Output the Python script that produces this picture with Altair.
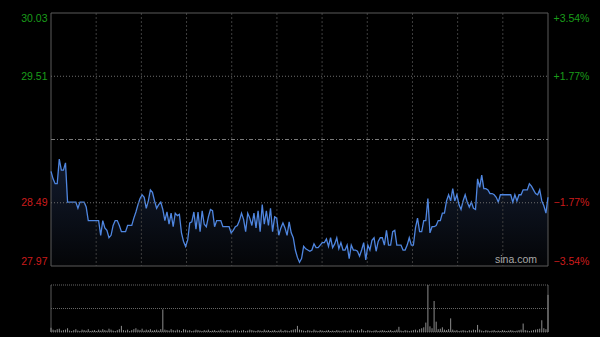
import altair as alt
import pandas as pd

# ---------------- data ----------------
minutes = list(range(241))
price = [
    28.74, 28.68, 28.64, 28.64, 28.84, 28.75, 28.75, 28.81, 28.49, 28.49,
    28.49, 28.49, 28.49, 28.44, 28.49, 28.49, 28.49, 28.45, 28.34, 28.34,
    28.34, 28.34, 28.34, 28.34, 28.22, 28.34, 28.28, 28.26, 28.20, 28.22,
    28.30, 28.34, 28.34, 28.30, 28.25, 28.25, 28.25, 28.30, 28.30, 28.30,
    28.36, 28.41, 28.47, 28.52, 28.55, 28.53, 28.44, 28.50, 28.59, 28.57,
    28.50, 28.44, 28.47, 28.49, 28.43, 28.34, 28.41, 28.31, 28.40, 28.29,
    28.40, 28.38, 28.39, 28.24, 28.17, 28.13, 28.18, 28.32, 28.33, 28.41,
    28.27, 28.41, 28.25, 28.42, 28.31, 28.29, 28.37, 28.43, 28.42, 28.29,
    28.34, 28.34, 28.34, 28.29, 28.29, 28.29, 28.29, 28.24, 28.26, 28.29,
    28.30, 28.34, 28.40, 28.35, 28.25, 28.40, 28.36, 28.30, 28.40, 28.28,
    28.42, 28.25, 28.47, 28.31, 28.42, 28.30, 28.44, 28.25, 28.37, 28.36,
    28.22, 28.28, 28.32, 28.28, 28.22, 28.33, 28.24, 28.20, 28.10, 28.04,
    28.00, 28.03, 28.13, 28.11, 28.10, 28.09, 28.10, 28.15, 28.12, 28.12,
    28.14, 28.16, 28.16, 28.19, 28.13, 28.20, 28.12, 28.15, 28.20, 28.11,
    28.16, 28.10, 28.10, 28.14, 28.03, 28.14, 28.10, 28.10, 28.09, 28.05,
    28.10, 28.16, 28.02, 28.14, 28.10, 28.18, 28.20, 28.09, 28.17, 28.20,
    28.20, 28.14, 28.26, 28.14, 28.14, 28.25, 28.26, 28.14, 28.14, 28.14,
    28.10, 28.10, 28.14, 28.20, 28.14, 28.14, 28.28, 28.36, 28.25, 28.25,
    28.34, 28.34, 28.52, 28.24, 28.29, 28.29, 28.30, 28.34, 28.34, 28.40,
    28.40, 28.50, 28.55, 28.50, 28.60, 28.50, 28.55, 28.47, 28.43, 28.50,
    28.55, 28.49, 28.45, 28.49, 28.44, 28.43, 28.68, 28.61, 28.71, 28.60,
    28.60, 28.59, 28.56, 28.56, 28.55, 28.53, 28.49, 28.55, 28.55, 28.55,
    28.55, 28.55, 28.55, 28.49, 28.55, 28.50, 28.55, 28.55, 28.59, 28.59,
    28.59, 28.64, 28.62, 28.59, 28.56, 28.55, 28.59, 28.50, 28.46, 28.40,
    28.53,
]
volume = [
    9, 5, 4, 6, 7, 3, 4, 5, 8, 3, 2, 4, 6, 3, 2, 5, 4, 3, 6, 2,
    3, 4, 2, 5, 3, 6, 4, 3, 7, 5, 3, 2, 4, 6, 13, 4, 3, 5, 2, 4,
    6, 8, 5, 4, 7, 3, 5, 4, 6, 3, 4, 5, 3, 6, 48, 5, 4, 3, 6, 4,
    3, 5, 4, 2, 6, 5, 3, 4, 2, 3, 5, 4, 3, 2, 4, 3, 5, 2, 3, 4,
    2, 3, 5, 3, 2, 4, 3, 2, 4, 5, 3, 2, 3, 4, 2, 3, 5, 4, 3, 2,
    4, 3, 2, 5, 3, 4, 2, 3, 4, 2, 3, 5, 2, 4, 3, 2, 4, 5, 6, 13,
    5, 4, 3, 2, 4, 3, 2, 5, 3, 2, 4, 3, 2, 3, 4, 2, 3, 2, 4, 3,
    2, 3, 4, 2, 3, 5, 3, 2, 4, 3, 6, 3, 2, 4, 3, 2, 3, 4, 2, 3,
    4, 3, 2, 3, 4, 2, 3, 5, 11, 3, 2, 4, 3, 2, 3, 4, 5, 3, 6, 8,
    10, 20, 100, 12, 8, 66, 22, 6, 7, 10, 5, 4, 6, 29, 5, 3, 4, 2, 3, 4,
    3, 2, 4, 3, 5, 4, 15, 5, 3, 2, 4, 3, 2, 3, 4, 2, 3, 2, 4, 3,
    2, 3, 4, 3, 2, 3, 4, 5, 18, 4, 3, 2, 3, 4, 5, 6, 7, 25, 8, 6,
    79,
]
assert len(price) == 241 and len(volume) == 241

prev_close = 29.00
price_min, price_max = 27.97, 30.03
price_ticks = [30.03, 29.51, 28.49, 27.97]
pct_min, pct_max = -3.54, 3.54
pct_ticks = [3.54, 1.77, -1.77, -3.54]
pct_grid = [1.77, -1.77]
vol_max = 100
vol_grid = [100, 50, 0]
grid_minutes = [240 * i / 11 for i in range(1, 11)]
watermark = "sina.com"

# ---------------- layout / style ----------------
W = 497
PH = 253          # price panel height
VT, VB = 272, 319  # volume panel top / bottom (px from top)
GREEN = "#1a9c1a"
RED = "#cc1c1c"
FONT = "Liberation Sans"
FRAME = "#5a5a5a"

df = pd.DataFrame({"m": minutes, "price": price, "vol": volume, "v0": [0] * 241})

x_scale = alt.Scale(domain=[0, 240], nice=False, zero=False)
p_scale = alt.Scale(domain=[price_min, price_max], range=[PH, 0], nice=False, zero=False)
pc_scale = alt.Scale(domain=[pct_min, pct_max], range=[PH, 0], nice=False, zero=False)
v_scale = alt.Scale(domain=[0, vol_max], range=[VB, VT], nice=False, zero=False)

left_axis = alt.Axis(
    orient="left", values=price_ticks, format=".2f", title=None,
    ticks=False, domain=False, grid=False, labelPadding=4, labelFlush=True,
    labelFont=FONT, labelFontSize=10.5,
    labelColor={"condition": {"test": f"datum.value > {prev_close}", "value": GREEN}, "value": RED},
)
right_axis = alt.Axis(
    orient="right", values=pct_ticks, title=None,
    labelExpr="(datum.value > 0 ? '+' : '') + format(datum.value, '.2f') + '%'",
    ticks=False, domain=False, grid=False, labelPadding=5, labelFlush=True,
    labelFont=FONT, labelFontSize=10.5,
    labelColor={"condition": {"test": "datum.value > 0", "value": GREEN}, "value": RED},
)

X = lambda f: alt.X(f, scale=x_scale, axis=None)
YP = lambda f: alt.Y(f, scale=p_scale, axis=left_axis)

# ---- price panel ----
grad = alt.Gradient(
    gradient="linear",
    stops=[alt.GradientStop(color="#121b2e", offset=0), alt.GradientStop(color="#040507", offset=1)],
    x1=1, x2=1, y1=0, y2=1,
)
pbase_df = df.assign(pb=price_min)
area = alt.Chart(pbase_df).mark_area(color=grad).encode(x=X("m:Q"), y=YP("price:Q"), y2="pb:Q")
line = alt.Chart(df).mark_line(color="#4f86e0", strokeWidth=1.3).encode(x=X("m:Q"), y=YP("price:Q"))

vgrid_df = pd.DataFrame({"m": grid_minutes, "top": price_max, "bot": price_min})
vgrid = alt.Chart(vgrid_df).mark_rule(color="#3e3e3e", strokeDash=[2, 2]).encode(
    x=X("m:Q"), y=YP("top:Q"), y2="bot:Q")

frame_df = pd.DataFrame({"x0": [0], "x1": [240], "top": [price_max], "bot": [price_min]})
frame = alt.Chart(frame_df).mark_rect(fillOpacity=0, stroke=FRAME, strokeWidth=1).encode(
    x=X("x0:Q"), x2="x1:Q", y=YP("top:Q"), y2="bot:Q")

wm_df = pd.DataFrame({"m": [240], "p": [price_min], "t": [watermark]})
wm = alt.Chart(wm_df).mark_text(align="right", baseline="bottom", dx=-11, dy=-1,
                                color="#a8a8a8", font=FONT, fontSize=10.5).encode(
    x=X("m:Q"), y=YP("p:Q"), text="t:N")

price_group = alt.layer(area, vgrid, frame, line, wm)

# ---- percent (right axis) + horizontal grid ----
YC = lambda f: alt.Y(f, scale=pc_scale, axis=right_axis)
hgrid_df = pd.DataFrame({"pct": pct_grid, "x0": 0, "x1": 240})
hgrid = alt.Chart(hgrid_df).mark_rule(color="#6e6e6e", strokeDash=[1, 2]).encode(
    x=X("x0:Q"), x2="x1:Q", y=YC("pct:Q"))
mid_df = pd.DataFrame({"pct": [0.0], "x0": [0], "x1": [240]})
mid = alt.Chart(mid_df).mark_rule(color="#7a7a7a", strokeDash=[4, 2, 1, 2]).encode(
    x=X("x0:Q"), x2="x1:Q", y=YC("pct:Q"))
pct_group = alt.layer(hgrid, mid)

# ---- volume panel ----
YV = lambda f: alt.Y(f, scale=v_scale, axis=None)
vh_df = pd.DataFrame({"v": vol_grid, "x0": 0, "x1": 240})
vh = alt.Chart(vh_df).mark_rule(color="#666666", strokeDash=[1, 1]).encode(
    x=X("x0:Q"), x2="x1:Q", y=YV("v:Q"))
vv_df = pd.DataFrame({"m": [0, 240], "v0": 0, "v1": vol_max})
vv = alt.Chart(vv_df).mark_rule(color=FRAME).encode(x=X("m:Q"), y=YV("v1:Q"), y2="v0:Q")
bars = alt.Chart(df).mark_rule(color="#8c8c8c", strokeWidth=1).encode(
    x=X("m:Q"), y=YV("vol:Q"), y2="v0:Q")
vol_group = alt.layer(vh, vv, bars)

chart = (
    alt.layer(price_group, pct_group, vol_group)
    .resolve_scale(y="independent")
    .resolve_axis(y="independent")
    .properties(
        width=W, height=VB,
        autosize=alt.AutoSizeParams(type="none"),
        padding={"left": 51, "top": 13, "right": 52, "bottom": 5},
        background="#000000",
    )
    .configure_view(strokeWidth=0)
)

chart.save("out.html", embed_options={"renderer": "svg", "actions": False})
